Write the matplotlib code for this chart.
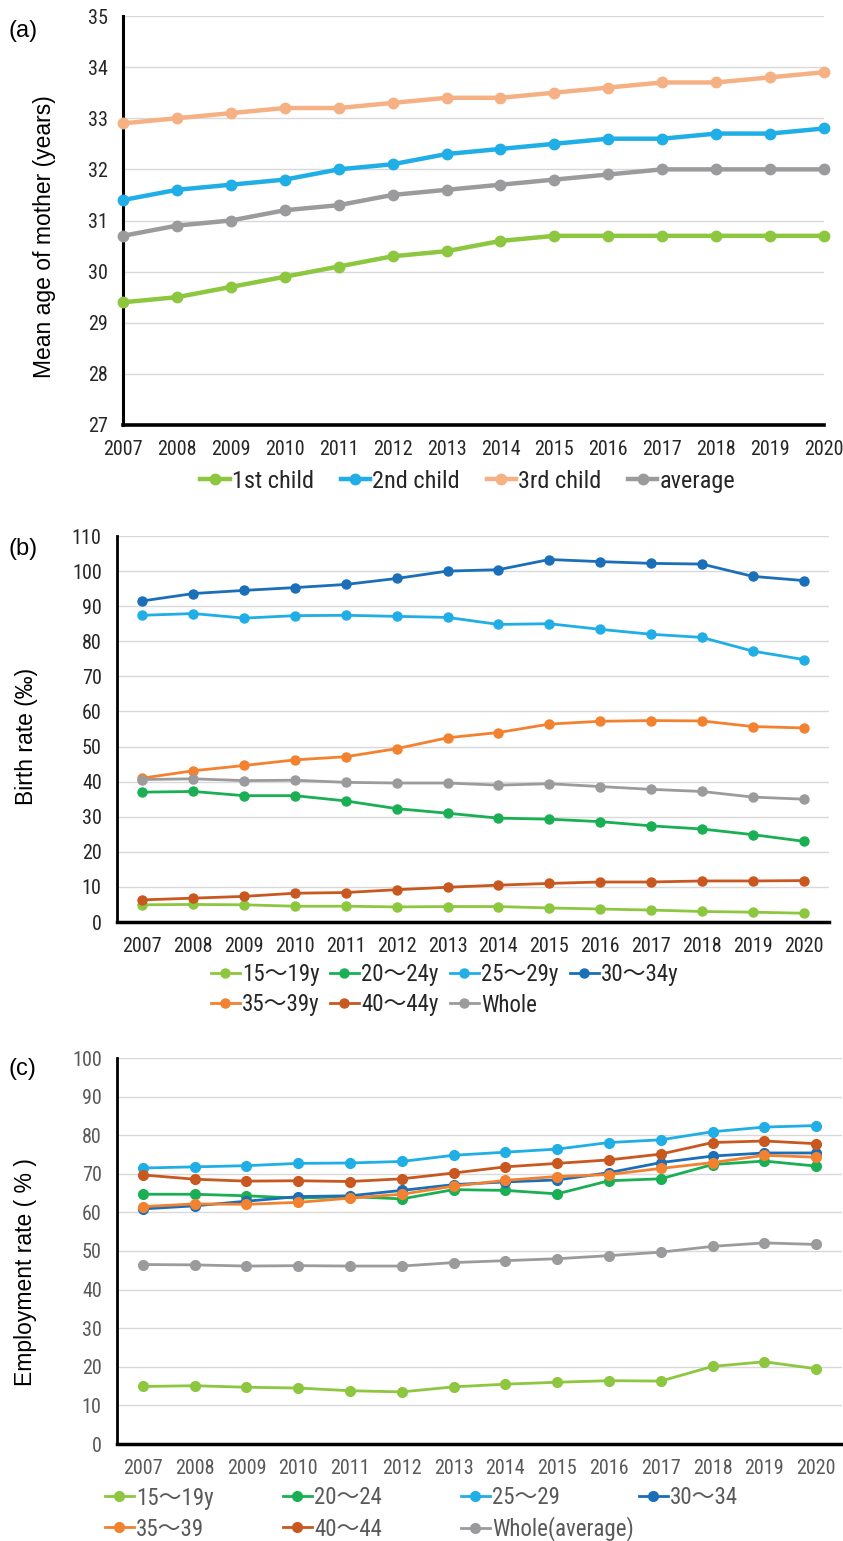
import numpy as np
import matplotlib
matplotlib.use('Agg')
import matplotlib.pyplot as plt

# ---- data ----
years = [str(y) for y in range(2007, 2021)]

# (a) mean age of mother at birth
age_1st = [29.4, 29.5, 29.7, 29.9, 30.1, 30.3, 30.4, 30.6, 30.7, 30.7, 30.7, 30.7, 30.7, 30.7]
age_2nd = [31.4, 31.6, 31.7, 31.8, 32.0, 32.1, 32.3, 32.4, 32.5, 32.6, 32.6, 32.7, 32.7, 32.8]
age_3rd = [32.9, 33.0, 33.1, 33.2, 33.2, 33.3, 33.4, 33.4, 33.5, 33.6, 33.7, 33.7, 33.8, 33.9]
age_avg = [30.7, 30.9, 31.0, 31.2, 31.3, 31.5, 31.6, 31.7, 31.8, 31.9, 32.0, 32.0, 32.0, 32.0]

# (b) birth rate by age group (per mille)
br_15_19 = [4.9, 5.0, 4.9, 4.5, 4.5, 4.3, 4.4, 4.4, 4.0, 3.7, 3.4, 3.0, 2.8, 2.5]
br_20_24 = [37.0, 37.2, 36.0, 36.0, 34.5, 32.3, 31.0, 29.6, 29.3, 28.6, 27.4, 26.5, 24.9, 23.0]
br_25_29 = [87.4, 87.9, 86.6, 87.3, 87.4, 87.1, 86.8, 84.8, 85.0, 83.4, 82.0, 81.1, 77.2, 74.8]
br_30_34 = [91.5, 93.6, 94.5, 95.3, 96.2, 97.9, 100.0, 100.4, 103.3, 102.7, 102.2, 102.0, 98.5, 97.3]
br_35_39 = [41.0, 43.1, 44.6, 46.2, 47.1, 49.4, 52.5, 54.0, 56.4, 57.2, 57.4, 57.3, 55.7, 55.3]
br_40_44 = [6.3, 6.8, 7.3, 8.2, 8.4, 9.2, 9.9, 10.5, 11.0, 11.4, 11.4, 11.7, 11.7, 11.8]
br_whole = [40.6, 40.8, 40.3, 40.4, 39.8, 39.6, 39.6, 39.0, 39.4, 38.6, 37.8, 37.2, 35.6, 35.0]

# (c) employment rate by age group (%)
em_15_19 = [14.9, 15.1, 14.7, 14.5, 13.8, 13.5, 14.8, 15.5, 16.0, 16.4, 16.3, 20.1, 21.3, 19.5]
em_20_24 = [64.7, 64.7, 64.3, 63.7, 64.1, 63.5, 65.9, 65.7, 64.8, 68.2, 68.7, 72.4, 73.3, 72.0]
em_25_29 = [71.5, 71.8, 72.1, 72.7, 72.8, 73.2, 74.8, 75.6, 76.4, 78.1, 78.8, 80.9, 82.1, 82.5]
em_30_34 = [60.9, 61.7, 62.9, 64.1, 64.3, 65.7, 67.2, 67.9, 68.4, 70.3, 72.9, 74.6, 75.4, 75.4]
em_35_39 = [61.5, 62.2, 62.1, 62.6, 63.7, 64.7, 66.8, 68.3, 69.3, 69.8, 71.4, 72.9, 74.8, 74.3]
em_40_44 = [69.7, 68.6, 68.1, 68.2, 68.0, 68.7, 70.2, 71.8, 72.7, 73.6, 75.1, 78.1, 78.5, 77.8]
em_whole = [46.5, 46.4, 46.1, 46.2, 46.1, 46.1, 47.0, 47.5, 48.0, 48.8, 49.7, 51.2, 52.1, 51.7]

# colours
C_LGREEN = '#8DC63F'
C_GREEN = '#1AAF54'
C_SKY = '#1FAEE5'
C_BLUE = '#1B6EB8'
C_ORANGE = '#F28130'
C_RUST = '#C8581F'
C_GRAY = '#9B9B9E'
C_PEACH = '#F5B183'

NARROW = ['Roboto Condensed', 'Noto Sans CJK JP', 'DejaVu Sans']
REGULAR = ['Liberation Sans', 'DejaVu Sans']
TICK_SIZE = 14.5

W, H = 843, 1541
fig = plt.figure(figsize=(W / 100, H / 100), dpi=100)


def px_axes(left, top, right, bottom):
    return fig.add_axes([left / W, 1 - bottom / H, (right - left) / W, (bottom - top) / H])


def style_axes(ax, ylim, yticks, tick_color, lw_left=2.0, lw_bottom=2.5):
    ax.set_ylim(*ylim)
    ax.set_yticks(yticks)
    ax.grid(axis='y', color='#D9D9D9', linewidth=1.0)
    ax.set_axisbelow(True)
    for s in ('top', 'right'):
        ax.spines[s].set_visible(False)
    ax.spines['left'].set_linewidth(lw_left)
    ax.spines['bottom'].set_linewidth(lw_bottom)
    ax.tick_params(length=0, labelcolor=tick_color, pad=11)
    for lab in ax.get_xticklabels() + ax.get_yticklabels():
        lab.set_fontfamily(NARROW)
        lab.set_fontsize(TICK_SIZE)


def grid_legend(handles, labels, xs, ys, color):
    # one entry per slot so every column sits at a fixed pitch
    for h, lab, x, y in zip(handles, labels, xs, ys):
        leg = fig.legend([h], [lab], loc='center left', bbox_to_anchor=(x / W, 1 - y / H),
                         frameon=False, handlelength=1.25, handletextpad=0.1,
                         borderpad=0, borderaxespad=0,
                         prop={'family': NARROW, 'size': 16.5})
        for t in leg.get_texts():
            t.set_color(color)


x = np.arange(len(years))

# ---- (a) ----
ax1 = px_axes(123, 16, 824, 425)
for vals, col, lab in [(age_1st, C_LGREEN, '1st child'), (age_2nd, C_SKY, '2nd child'),
                       (age_3rd, C_PEACH, '3rd child'), (age_avg, C_GRAY, 'average')]:
    ax1.plot(x, vals, color=col, lw=3.2, marker='o', ms=7.5, label=lab, clip_on=False, zorder=3)
ax1.set_xlim(0, 13)
ax1.set_xticks(x)
ax1.set_xticklabels(years)
style_axes(ax1, (27, 35), range(27, 36), '#262626', lw_left=2.2, lw_bottom=2.6)
ax1.set_ylabel('Mean age of mother (years)', fontfamily=REGULAR, fontsize=16.5)
ax1.yaxis.set_label_coords(-0.096, 0.46)
leg = ax1.legend(loc='center', bbox_to_anchor=(468 / W, 1 - 481 / H), bbox_transform=fig.transFigure,
                 ncol=4, frameon=False, handlelength=1.2, handletextpad=0.1, columnspacing=1.1,
                 prop={'family': NARROW, 'size': 17.5})
for t in leg.get_texts():
    t.set_color('#262626')
fig.text(8 / W, 1 - 31 / H, '(a)', fontfamily=REGULAR, fontsize=17, va='center')

# ---- (b) ----
ax2 = px_axes(117, 536, 829, 922)
b_series = [(br_15_19, C_LGREEN, '15～19y'), (br_20_24, C_GREEN, '20～24y'),
            (br_25_29, C_SKY, '25～29y'), (br_30_34, C_BLUE, '30～34y'),
            (br_35_39, C_ORANGE, '35～39y'), (br_40_44, C_RUST, '40～44y'),
            (br_whole, C_GRAY, 'Whole')]
hb = []
for vals, col, lab in b_series:
    hb.append(ax2.plot(x, vals, color=col, lw=2.0, marker='o', ms=6.5, zorder=3)[0])
ax2.set_xlim(-0.5, 13.5)
ax2.set_xticks(x)
ax2.set_xticklabels(years)
style_axes(ax2, (0, 110), range(0, 111, 10), '#262626', lw_left=2.0, lw_bottom=2.5)
ax2.set_ylabel('Birth rate (‰)', fontfamily=REGULAR, fontsize=16.5)
ax2.yaxis.set_label_coords(-0.111, 0.48)
grid_legend(hb, [s[2] for s in b_series],
            [211, 330, 450, 570, 211, 330, 450],
            [975, 975, 975, 975, 1005, 1005, 1005], '#262626')
fig.text(8 / W, 1 - 549 / H, '(b)', fontfamily=REGULAR, fontsize=17, va='center')

# ---- (c) ----
ax3 = px_axes(117, 1058, 842, 1444)
c_series = [(em_15_19, C_LGREEN, '15～19y'), (em_20_24, C_GREEN, '20～24'),
            (em_25_29, C_SKY, '25～29'), (em_30_34, C_BLUE, '30～34'),
            (em_35_39, C_ORANGE, '35～39'), (em_40_44, C_RUST, '40～44'),
            (em_whole, C_GRAY, 'Whole(average)')]
hc = []
for vals, col, lab in c_series:
    hc.append(ax3.plot(x, vals, color=col, lw=2.0, marker='o', ms=7, zorder=3)[0])
ax3.set_xlim(-0.5, 13.5)
ax3.set_xticks(x)
ax3.set_xticklabels(years)
style_axes(ax3, (0, 100), range(0, 101, 10), '#595959', lw_left=2.0, lw_bottom=2.5)
ax3.set_ylabel('Employment rate ( % )', fontfamily=REGULAR, fontsize=16.5)
ax3.yaxis.set_label_coords(-0.110, 0.446)
grid_legend(hc, [s[2] for s in c_series],
            [105, 283, 461, 639, 105, 283, 461],
            [1498, 1498, 1498, 1498, 1529, 1529, 1529], '#595959')
fig.text(8 / W, 1 - 1069 / H, '(c)', fontfamily=REGULAR, fontsize=17, va='center')

fig.savefig('out.png', dpi=100)
